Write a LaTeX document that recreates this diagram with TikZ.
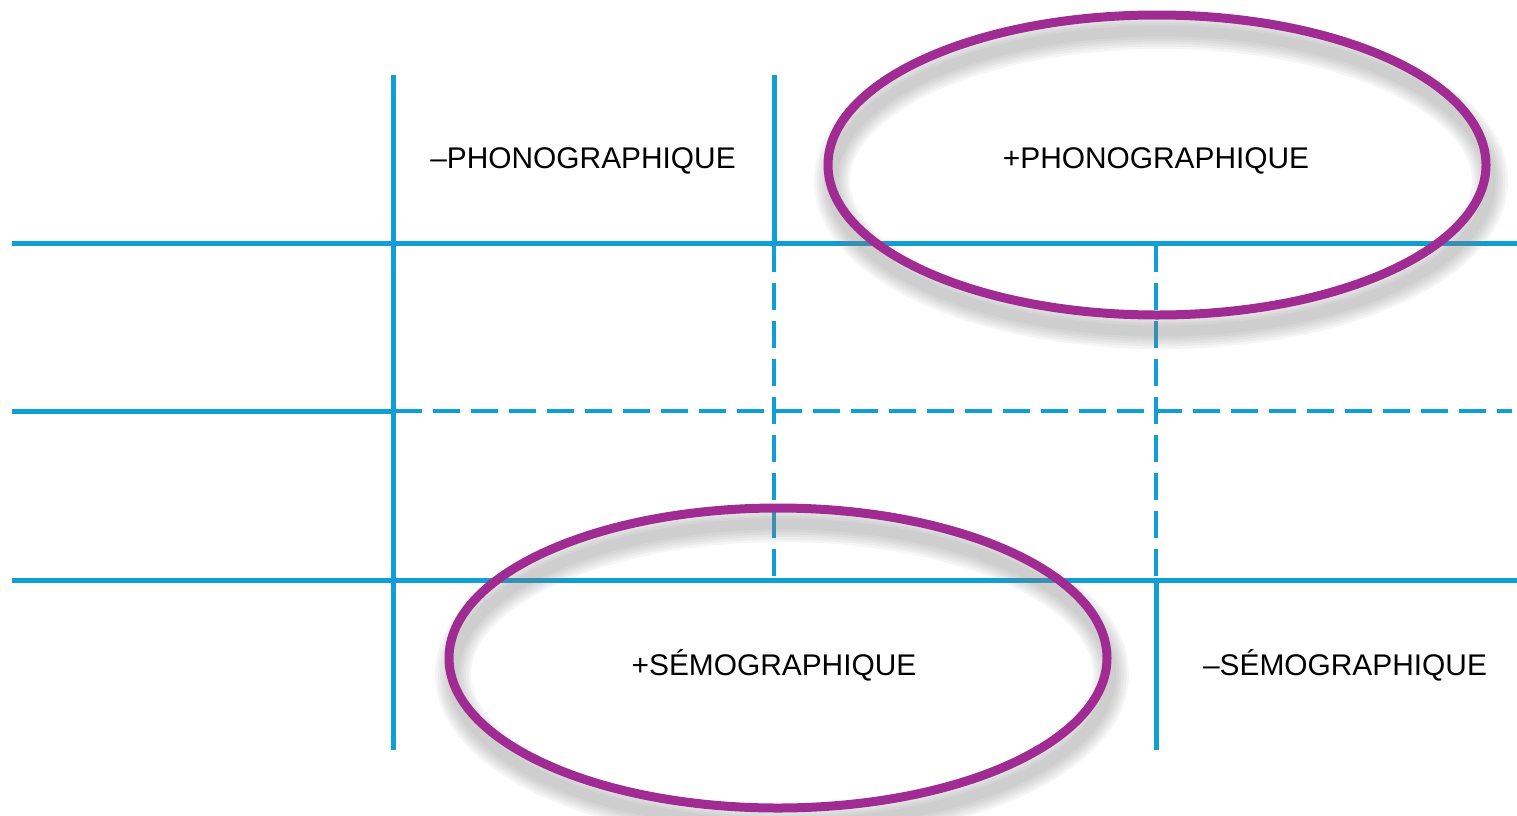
\documentclass[tikz,border=0pt]{standalone}
\usepackage{fontspec}
\setmainfont{Liberation Sans}
\usepackage{xcolor}
\definecolor{gridblue}{HTML}{0F9ED5}
\definecolor{ovalpurple}{HTML}{A02B93}
\usepackage{tikz}
\usetikzlibrary{positioning,calc}

\begin{document}
\begin{tikzpicture}[x=0.02cm,y=-0.02cm,
  grid/.style={draw=gridblue,line width=0.1cm},
  gridd/.style={draw=gridblue,line width=0.09cm,dash pattern=on 0.54cm off 0.22cm},
  oval/.style={draw=ovalpurple,line width=0.18cm},
  lbl/.style={anchor=base,inner sep=0pt,font=\fontsize{17}{20}\selectfont}]
\useasboundingbox (0,0) rectangle (1517,815);
% grid
\draw[grid] (12,243) -- (1517,243);
\draw[grid] (12,411) -- (395,411);
\draw[gridd] (395,411) -- (1512,411);
\draw[grid] (12,580) -- (1517,580);
\draw[grid] (393,75) -- (393,750);
\draw[grid] (774,75) -- (774,245);
\draw[gridd] (774,245) -- (774,576);
\draw[gridd] (1156,245) -- (1156,580);
\draw[grid] (1156,580) -- (1156,750);
% shadows
\foreach \w in {0.72,0.62,0.52,0.42,0.32,0.22}{
  \draw[gray,opacity=0.08,line width=\w cm] (1161,181) ellipse [x radius=329,y radius=150];
  \draw[gray,opacity=0.08,line width=\w cm] (782,674) ellipse [x radius=329,y radius=150];
}
% ovals
\draw[oval] (1157,165) ellipse [x radius=329,y radius=150];
\draw[oval] (778,658) ellipse [x radius=329,y radius=150];
% labels
\node[lbl] (minphono) at (583,168) {–PHONOGRAPHIQUE};
\node[lbl] (plusphono) at (1156,168) {+PHONOGRAPHIQUE};
\node[lbl] (plussemo) at (774,675) {+SÉMOGRAPHIQUE};
\node[lbl] (minsemo) at (1345,675) {–SÉMOGRAPHIQUE};
\end{tikzpicture}
\end{document}
